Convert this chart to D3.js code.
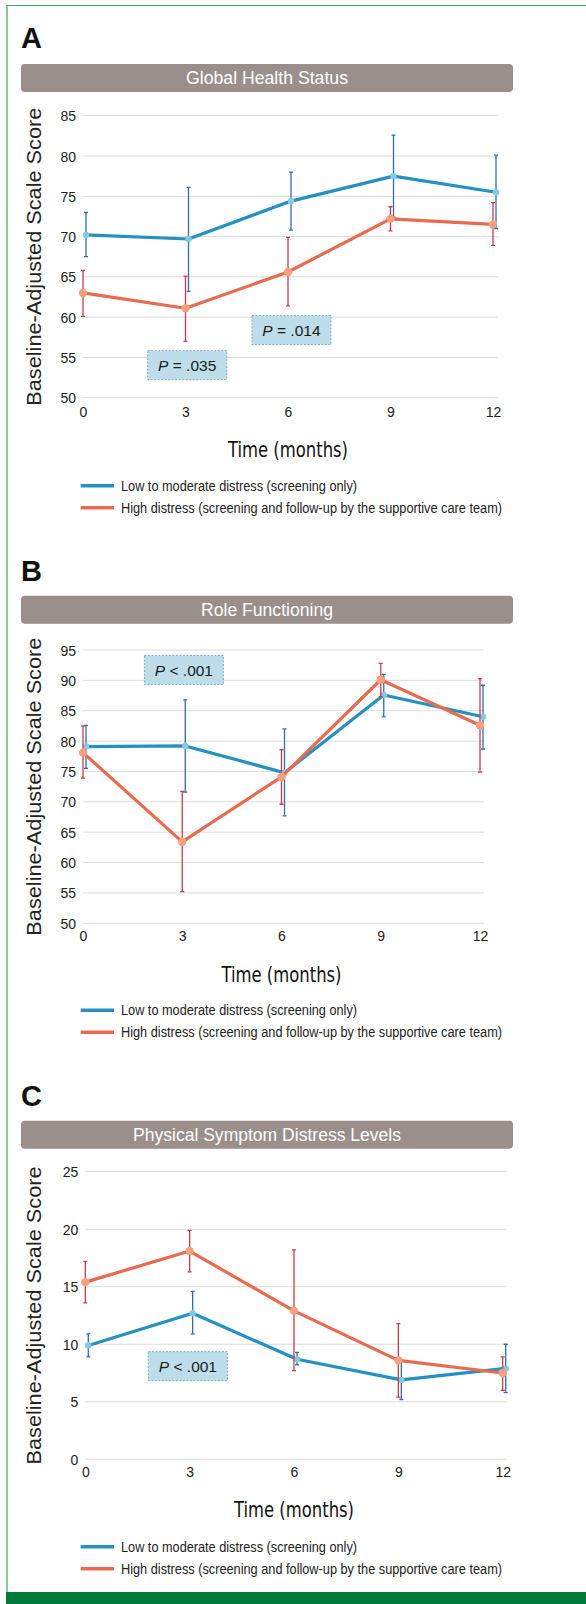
<!DOCTYPE html>
<html>
<head>
<meta charset="utf-8">
<script src="https://cdn.jsdelivr.net/npm/d3@7"></script>
<style>
  body { margin: 0; background: #fff; }
  svg { display: block; font-family: "Liberation Sans", Arial, sans-serif; }
</style>
</head>
<body>
<svg id="chart" width="586" height="1604"></svg>
<script>
const months = [0, 3, 6, 9, 12];
const seriesNames = [
  'Low to moderate distress (screening only)',
  'High distress (screening and follow-up by the supportive care team)'
];

// A - global health status
const globalLow = [70.2, 69.7, 74.4, 77.5, 75.5];
const globalLowHi = [73.0, 76.1, 78.0, 82.6, 80.1];
const globalLowLo = [67.5, 63.2, 70.8, 72.4, 71.0];
const globalHigh = [63.0, 61.1, 65.6, 72.2, 71.5];
const globalHighHi = [65.8, 65.1, 69.9, 73.7, 74.2];
const globalHighLo = [60.1, 57.0, 61.4, 70.7, 68.9];
const globalTicks = [50, 55, 60, 65, 70, 75, 80, 85];
const globalNotes = ['P = .035', 'P = .014'];

// B - role functioning
const roleLow = [79.1, 79.2, 74.8, 87.6, 84.0];
const roleLowHi = [82.6, 86.8, 82.0, 91.0, 89.2];
const roleLowLo = [75.5, 71.6, 67.7, 84.0, 78.7];
const roleHigh = [78.1, 63.4, 74.1, 90.1, 82.6];
const roleHighHi = [82.5, 71.7, 78.6, 92.8, 90.3];
const roleHighLo = [73.9, 55.2, 69.6, 87.3, 74.9];
const roleTicks = [50, 55, 60, 65, 70, 75, 80, 85, 90, 95];
const roleNotes = ['P < .001'];

// C - physical symptom distress
const physLow = [9.9, 12.7, 8.7, 6.9, 7.9];
const physLowHi = [10.9, 14.6, 9.3, 8.6, 10.0];
const physLowLo = [8.9, 10.9, 8.2, 5.2, 5.8];
const physHigh = [15.4, 18.1, 12.9, 8.6, 7.5];
const physHighHi = [17.2, 19.9, 18.2, 11.8, 8.9];
const physHighLo = [13.6, 16.3, 7.7, 5.4, 6.0];
const physTicks = [0, 5, 10, 15, 20, 25];
const physNotes = ['P < .001'];

const colors = {
  lowLine: '#2491c2', lowDot: '#85c8e4', lowErr: '#2f6fae',
  highLine: '#ea6a50', highDot: '#f5a17f', highErr: '#cc3b4c'
};

// layout per panel (pixel positions are style, kept out of the data arrays)
const panels = [
  {
    letter: 'A', title: 'Global Health Status', titleLen: 162, ticks: globalTicks,
    low: [globalLow, globalLowLo, globalLowHi], high: [globalHigh, globalHighLo, globalHighHi],
    letterY: 48, barTop: 64, top: 115.7, bottom: 397.7, x0: 83, x1: 493, gridEnd: 498,
    notes: globalNotes, noteAt: [[3.05, 54.05], [6.1, 58.4]],
    tickY: 418, axisTitleY: 456.7, legendY: 485.7
  },
  {
    letter: 'B', title: 'Role Functioning', titleLen: 132, ticks: roleTicks,
    low: [roleLow, roleLowLo, roleLowHi], high: [roleHigh, roleHighLo, roleHighHi],
    letterY: 580.7, barTop: 595.7, top: 650, bottom: 923.3, x0: 83, x1: 480, gridEnd: 484,
    notes: roleNotes, noteAt: [[3.05, 91.7]],
    tickY: 941.7, axisTitleY: 981.7, legendY: 1010.3
  },
  {
    letter: 'C', title: 'Physical Symptom Distress Levels', titleLen: 268, ticks: physTicks,
    low: [physLow, physLowLo, physLowHi], high: [physHigh, physHighLo, physHighHi],
    letterY: 1106, barTop: 1120.7, top: 1171.7, bottom: 1459.3, x0: 85.3, x1: 502.7, gridEnd: 506.7,
    notes: physNotes, noteAt: [[2.95, 8.1]],
    tickY: 1478.3, axisTitleY: 1516.7, legendY: 1546.7
  }
];

const svg = d3.select('#chart');

// frame: thin green rule left/top, solid green band at the foot
svg.append('path')
  .attr('d', 'M7,1604 V5.5 H600')
  .attr('fill', 'none')
  .attr('stroke', '#3fa464')
  .attr('stroke-width', 1.2);
svg.append('rect')
  .attr('x', 6).attr('y', 1592).attr('width', 580).attr('height', 12)
  .attr('fill', '#007a3a');

const drawPanel = p => {
  const g = svg.append('g');
  const ext = d3.extent(p.ticks);
  const x = d3.scaleLinear().domain([0, 12]).range([p.x0, p.x1]);
  const y = d3.scaleLinear().domain(ext).range([p.bottom, p.top]);

  g.append('text')
    .attr('x', 21).attr('y', p.letterY)
    .attr('font-size', 29).attr('font-weight', 'bold')
    .attr('fill', '#111')
    .text(p.letter);

  g.append('rect')
    .attr('x', 21).attr('y', p.barTop).attr('width', 492).attr('height', 28)
    .attr('rx', 4).attr('fill', '#9b8f8c');
  g.append('text')
    .attr('x', 267).attr('y', p.barTop + 20)
    .attr('text-anchor', 'middle')
    .attr('font-size', 17.5).attr('fill', '#fff')
    .attr('textLength', p.titleLen).attr('lengthAdjust', 'spacingAndGlyphs')
    .text(p.title);

  // grid
  g.append('g')
    .selectAll('line')
    .data(p.ticks)
    .join('line')
      .attr('x1', p.x0).attr('x2', p.gridEnd)
      .attr('y1', d => y(d)).attr('y2', d => y(d))
      .attr('stroke', '#dcdcdc').attr('stroke-width', 1);

  const yAxis = g.append('g')
    .attr('transform', `translate(${p.x0 - 7},0)`)
    .call(d3.axisLeft(y).tickValues(p.ticks).tickSize(0).tickPadding(0));
  const xAxis = g.append('g')
    .attr('transform', `translate(0,${p.tickY - 11})`)
    .call(d3.axisBottom(x).tickValues(months).tickSize(0).tickPadding(0));
  [yAxis, xAxis].forEach(a => {
    a.select('.domain').remove();
    a.selectAll('text').attr('font-size', 14).attr('fill', '#222')
      .attr('font-family', '"Liberation Sans", Arial, sans-serif');
  });
  yAxis.selectAll('text').attr('dy', '0.36em');

  g.append('text')
    .attr('transform', `translate(41,${(p.top + p.bottom) / 2}) rotate(-90)`)
    .attr('text-anchor', 'middle')
    .attr('font-size', 20.5).attr('fill', '#222')
    .attr('textLength', 298).attr('lengthAdjust', 'spacingAndGlyphs')
    .text('Baseline-Adjusted Scale Score');

  g.append('text')
    .attr('x', x(6)).attr('y', p.axisTitleY)
    .attr('text-anchor', 'middle')
    .attr('font-size', 22).attr('fill', '#111')
    .attr('font-family', '"Liberation Sans Narrow", "DejaVu Sans Condensed", Arial, sans-serif')
    .attr('textLength', 120).attr('lengthAdjust', 'spacingAndGlyphs')
    .text('Time (months)');

  // p-value boxes
  const notes = g.append('g')
    .selectAll('g')
    .data(p.notes)
    .join('g')
      .attr('transform', (d, i) => `translate(${x(p.noteAt[i][0])},${y(p.noteAt[i][1])})`);
  notes.append('rect')
    .attr('x', -39.5).attr('y', -14.5).attr('width', 79).attr('height', 29)
    .attr('fill', '#bcdde9')
    .attr('stroke', '#86aec6').attr('stroke-width', 1)
    .attr('stroke-dasharray', '2,1.5');
  const nt = notes.append('text')
    .attr('text-anchor', 'middle').attr('y', 5.5)
    .attr('font-size', 15.5).attr('fill', '#1a1a1a');
  nt.append('tspan').attr('font-style', 'italic').text(d => d.split(' ')[0]);
  nt.append('tspan').text(d => ' ' + d.split(' ').slice(1).join(' '));

  // series
  const series = [
    { vals: p.low, line: colors.lowLine, dot: colors.lowDot, err: colors.lowErr, dx: 3, r: 3.2 },
    { vals: p.high, line: colors.highLine, dot: colors.highDot, err: colors.highErr, dx: 0, r: 4.2 }
  ];
  series.forEach(s => {
    const [mid, lo, hi] = s.vals;
    const pts = months.map((m, i) => ({ m, v: mid[i], lo: lo[i], hi: hi[i] }));
    const eg = g.append('g').attr('stroke', s.err).attr('stroke-width', 1.3);
    eg.selectAll('line.bar')
      .data(pts).join('line').attr('class', 'bar')
      .attr('x1', d => x(d.m) + s.dx).attr('x2', d => x(d.m) + s.dx)
      .attr('y1', d => y(d.lo)).attr('y2', d => y(d.hi));
    eg.selectAll('path.cap')
      .data(pts).join('path').attr('class', 'cap')
      .attr('d', d => `M${x(d.m) + s.dx - 2},${y(d.lo)}h4M${x(d.m) + s.dx - 2},${y(d.hi)}h4`);

    g.append('path')
      .datum(pts)
      .attr('fill', 'none')
      .attr('stroke', s.line).attr('stroke-width', 3.2)
      .attr('stroke-linejoin', 'round')
      .attr('d', d3.line().x(d => x(d.m) + s.dx).y(d => y(d.v)));

    g.append('g')
      .selectAll('circle')
      .data(pts).join('circle')
        .attr('cx', d => x(d.m) + s.dx).attr('cy', d => y(d.v))
        .attr('r', s.r).attr('fill', s.dot);
  });

  // legend
  const lg = g.append('g')
    .selectAll('g')
    .data(seriesNames)
    .join('g')
      .attr('transform', (d, i) => `translate(0,${p.legendY + i * 22})`);
  lg.append('line')
    .attr('x1', 80.7).attr('x2', 114)
    .attr('stroke', (d, i) => i === 0 ? colors.lowLine : colors.highLine)
    .attr('stroke-width', 3.5);
  lg.append('text')
    .attr('x', 121).attr('y', 5)
    .attr('font-size', 14).attr('fill', '#222')
    .attr('textLength', (d, i) => i === 0 ? 236 : 381)
    .attr('lengthAdjust', 'spacingAndGlyphs')
    .text(d => d);
};

panels.forEach(drawPanel);
</script>
</body>
</html>
